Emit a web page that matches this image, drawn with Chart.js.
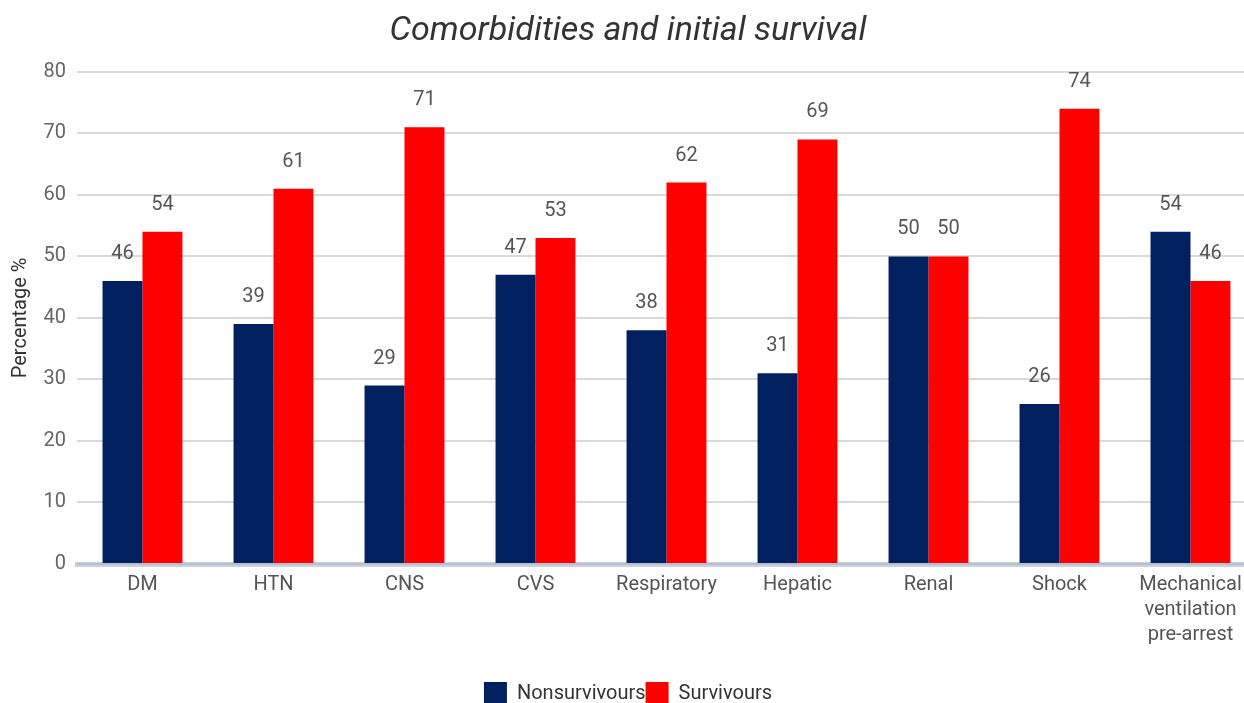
<!DOCTYPE html>
<html>
<head>
<meta charset="utf-8">
<script src="https://cdn.jsdelivr.net/npm/chart.js@4"></script>
<style>
  body { margin: 0; overflow: hidden; background: #fff; }
  #wrap { width: 1258px; height: 703px; }
</style>
</head>
<body>
<div id="wrap"><canvas id="myChart"></canvas></div>
<script>
var categories = ['DM', 'HTN', 'CNS', 'CVS', 'Respiratory', 'Hepatic', 'Renal', 'Shock',
  ['Mechanical', 'ventilation', 'pre-arrest']];
var nonsurvivours = [46, 39, 29, 47, 38, 31, 50, 26, 54];
var survivours = [54, 61, 71, 53, 62, 69, 50, 74, 46];

// value labels above each bar
var valueLabels = {
  id: 'valueLabels',
  afterDatasetsDraw: function(chart) {
    var ctx = chart.ctx;
    ctx.save();
    ctx.font = '20px Roboto';
    ctx.fillStyle = '#555';
    ctx.textAlign = 'center';
    ctx.textBaseline = 'middle';
    chart.data.datasets.forEach(function(ds, i) {
      chart.getDatasetMeta(i).data.forEach(function(bar, j) {
        ctx.fillText(ds.data[j], bar.x, bar.y - 27);
      });
    });
    ctx.restore();
  }
};

var ctx = document.getElementById('myChart').getContext('2d');
var myChart = new Chart(ctx, {
  type: 'bar',
  data: {
    labels: categories,
    datasets: [{
      label: 'Nonsurvivours',
      data: nonsurvivours,
      backgroundColor: '#002060',
      categoryPercentage: 0.61,
      barPercentage: 1.0
    }, {
      label: 'Survivours',
      data: survivours,
      backgroundColor: '#ff0000',
      categoryPercentage: 0.61,
      barPercentage: 1.0
    }]
  },
  options: {
    responsive: true,
    maintainAspectRatio: false,
    animation: false,
    layout: { padding: { left: 0, right: 2, top: 0, bottom: -12 } },
    plugins: {
      //Chart title
      title: {
        display: true,
        text: 'Comorbidities and initial survival',
        color: '#333',
        font: { family: 'Roboto', size: 34, style: 'italic', weight: 'normal' },
        padding: { top: 11, bottom: 20 }
      },
      legend: {
        position: 'bottom',
        labels: {
          boxWidth: 23,
          boxHeight: 23,
          padding: 0,
          color: '#333',
          font: { family: 'Roboto', size: 20 }
        }
      },
      tooltip: { enabled: false }
    },
    scales: {
      y: {
        min: 0,
        max: 80,
        ticks: {
          stepSize: 10,
          padding: 11,
          color: '#666',
          font: { family: 'Roboto', size: 20 }
        },
        grid: { color: '#d9d9d9', lineWidth: 2, drawTicks: false },
        border: { display: false },
        title: {
          display: true,
          text: 'Percentage %',
          color: '#333',
          padding: { top: 9, bottom: 0 },
          font: { family: 'Roboto', size: 20 }
        },
        afterFit: function(scale) { scale.width = 77; }
      },
      x: {
        z: 1,
        ticks: {
          padding: 8,
          color: '#555',
          maxRotation: 0,
          autoSkip: false,
          font: { family: 'Roboto', size: 20, lineHeight: 1.25 }
        },
        grid: { display: false, drawTicks: false },
        border: { display: true, color: 'rgba(150,165,195,0.5)', width: 5 },
        afterFit: function(scale) { scale.height = 118; }
      }
    }
  },
  plugins: [valueLabels]
});
</script>
</body>
</html>
